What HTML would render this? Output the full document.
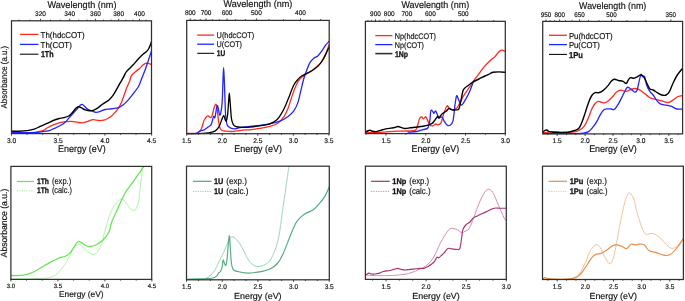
<!DOCTYPE html>
<html><head><meta charset="utf-8"><title>Absorbance spectra</title>
<style>
html,body{margin:0;padding:0;background:#fff;}
body{width:685px;height:301px;overflow:hidden;}
svg{display:block;filter:blur(0.3px);}
text{text-rendering:geometricPrecision;font-family:"Liberation Sans", sans-serif;stroke:#1a1a1a;stroke-width:0.18px;}
</style></head>
<body>
<svg width="685" height="301" viewBox="0 0 685 301" font-family='"Liberation Sans", sans-serif'>
<rect x="0" y="0" width="685" height="301" fill="#fff"/>
<clipPath id="c1"><rect x="11.5" y="20.3" width="140" height="113.8"/></clipPath>
<g clip-path="url(#c1)" fill="none" stroke-linejoin="round" stroke-linecap="round">
<path d="M11.5,133.1C14.13,133.1 23.23,133.23 27.3,133.1C31.37,132.97 33.32,132.7 35.9,132.3C38.48,131.9 41.02,131.38 42.8,130.7C44.58,130.02 44.85,129.17 46.6,128.2C48.35,127.23 51.08,125.83 53.3,124.9C55.52,123.97 57.68,123.15 59.9,122.6C62.12,122.05 64.6,121.82 66.6,121.6C68.6,121.38 70.13,121.2 71.9,121.3C73.67,121.4 75.43,121.93 77.2,122.2C78.97,122.47 80.73,123.05 82.5,122.9C84.27,122.75 86.02,121.85 87.8,121.3C89.58,120.75 91.42,119.73 93.2,119.6C94.98,119.47 96.73,120.4 98.5,120.5C100.27,120.6 102.27,120.53 103.8,120.2C105.33,119.87 106.4,119.22 107.7,118.5C109,117.78 110.28,117 111.6,115.9C112.92,114.8 114.37,113.35 115.6,111.9C116.83,110.45 118,108.87 119,107.2C120,105.53 120.72,104 121.6,101.9C122.48,99.8 123.42,97.03 124.3,94.6C125.18,92.17 126.02,89.52 126.9,87.3C127.78,85.08 128.87,83.2 129.6,81.3C130.33,79.4 130.32,77.5 131.3,75.9C132.28,74.3 134.12,72.95 135.5,71.7C136.88,70.45 138.35,69.5 139.6,68.4C140.85,67.3 142.03,65.93 143,65.1C143.97,64.27 144.58,63.68 145.4,63.4C146.22,63.12 146.83,63.2 147.9,63.4C148.97,63.6 151.15,64.4 151.8,64.6" stroke="#ff2a1f" stroke-width="1.3"/>
<path d="M11.5,132.2C14.13,132.27 23.23,132.55 27.3,132.6C31.37,132.65 33.03,132.7 35.9,132.5C38.77,132.3 42.15,131.77 44.5,131.4C46.85,131.03 48.53,130.72 50,130.3C51.47,129.88 51.65,129.65 53.3,128.9C54.95,128.15 57.92,126.92 59.9,125.8C61.88,124.68 63.65,123.57 65.2,122.2C66.75,120.83 67.87,119.08 69.2,117.6C70.53,116.12 71.98,114.63 73.2,113.3C74.42,111.97 75.38,110.88 76.5,109.6C77.62,108.32 78.93,106.48 79.9,105.6C80.87,104.72 81.53,104.18 82.3,104.3C83.07,104.42 83.58,105.45 84.5,106.3C85.42,107.15 86.58,108.62 87.8,109.4C89.02,110.18 90.47,110.52 91.8,111C93.13,111.48 94.47,112.2 95.8,112.3C97.13,112.4 98.27,112.07 99.8,111.6C101.33,111.13 103.25,109.93 105,109.5C106.75,109.07 108.53,109.22 110.3,109C112.07,108.78 114.05,108.5 115.6,108.2C117.15,107.9 118.27,107.8 119.6,107.2C120.93,106.6 122.27,105.7 123.6,104.6C124.93,103.5 126.27,102.05 127.6,100.6C128.93,99.15 130.37,97.45 131.6,95.9C132.83,94.35 133.8,92.95 135,91.3C136.2,89.65 137.62,88.3 138.8,86C139.98,83.7 141,80.3 142.1,77.5C143.2,74.7 144.43,71.83 145.4,69.2C146.37,66.57 147.07,64.18 147.9,61.7C148.73,59.22 149.68,56.5 150.4,54.3C151.12,52.1 151.9,49.47 152.2,48.5" stroke="#2424ff" stroke-width="1.3"/>
<path d="M11.5,131.2C12.68,131.2 15.97,131.3 18.6,131.2C21.23,131.1 24.7,130.93 27.3,130.6C29.9,130.27 32.05,129.9 34.2,129.2C36.35,128.5 38.13,127.33 40.2,126.4C42.27,125.47 44.42,124.58 46.6,123.6C48.78,122.62 51.3,121.32 53.3,120.5C55.3,119.68 56.83,119.18 58.6,118.7C60.37,118.22 62.23,118.05 63.9,117.6C65.57,117.15 67.15,116.88 68.6,116C70.05,115.12 71.38,113.58 72.6,112.3C73.82,111.02 74.92,109.23 75.9,108.3C76.88,107.37 77.62,106.82 78.5,106.7C79.38,106.58 80.08,107.07 81.2,107.6C82.32,108.13 83.87,109.38 85.2,109.9C86.53,110.42 87.87,110.63 89.2,110.7C90.53,110.77 91.88,110.7 93.2,110.3C94.52,109.9 95.55,109.3 97.1,108.3C98.65,107.3 101.18,105.25 102.5,104.3C103.82,103.35 103.92,103.33 105,102.6C106.08,101.87 107.67,101.12 109,99.9C110.33,98.68 111.67,97.18 113,95.3C114.33,93.42 115.78,90.7 117,88.6C118.22,86.5 119.22,84.6 120.3,82.7C121.38,80.8 122.58,78.9 123.5,77.2C124.42,75.5 125.05,73.7 125.8,72.5C126.55,71.3 126.8,71.23 128,70C129.2,68.77 131.33,66.88 133,65.1C134.67,63.32 136.33,61.1 138,59.3C139.67,57.5 141.62,55.55 143,54.3C144.38,53.05 145.33,52.77 146.3,51.8C147.27,50.83 148.03,49.88 148.8,48.5C149.57,47.12 150.33,45.08 150.9,43.5C151.47,41.92 151.98,39.75 152.2,39" stroke="#000000" stroke-width="1.4"/>
</g>
<rect x="11.5" y="20.8" width="140" height="112.8" fill="none" stroke="#303030" stroke-width="1.25"/>
<path d="M11.5,133.6v2M27.07,133.6v1.2M42.63,133.6v1.2M58.2,133.6v2M73.77,133.6v1.2M89.33,133.6v1.2M104.9,133.6v2M120.47,133.6v1.2M136.03,133.6v1.2M151.6,133.6v2M18.98,20.8v-1.2M29.97,20.8v-1.2M40.5,20.8v-2M50.6,20.8v-1.2M60.3,20.8v-1.2M69.62,20.8v-2M78.58,20.8v-1.2M87.2,20.8v-1.2M95.5,20.8v-2M103.5,20.8v-1.2M111.21,20.8v-1.2M118.66,20.8v-2M125.84,20.8v-1.2M132.79,20.8v-1.2M139.5,20.8v-2M145.99,20.8v-1.2" stroke="#303030" stroke-width="0.9" fill="none"/>
<text x="11.5" y="142.9" font-size="6.9" text-anchor="middle" textLength="9.2" lengthAdjust="spacingAndGlyphs" fill="#111">3.0</text>
<text x="58.2" y="142.9" font-size="6.9" text-anchor="middle" textLength="9.2" lengthAdjust="spacingAndGlyphs" fill="#111">3.5</text>
<text x="104.9" y="142.9" font-size="6.9" text-anchor="middle" textLength="9.2" lengthAdjust="spacingAndGlyphs" fill="#111">4.0</text>
<text x="151.6" y="142.9" font-size="6.9" text-anchor="middle" textLength="9.2" lengthAdjust="spacingAndGlyphs" fill="#111">4.5</text>
<text x="40.5" y="15.8" font-size="6.7" text-anchor="middle" textLength="10.9" lengthAdjust="spacingAndGlyphs" fill="#111">320</text>
<text x="69.62" y="15.8" font-size="6.7" text-anchor="middle" textLength="10.9" lengthAdjust="spacingAndGlyphs" fill="#111">340</text>
<text x="95.5" y="15.8" font-size="6.7" text-anchor="middle" textLength="10.9" lengthAdjust="spacingAndGlyphs" fill="#111">360</text>
<text x="118.66" y="15.8" font-size="6.7" text-anchor="middle" textLength="10.9" lengthAdjust="spacingAndGlyphs" fill="#111">380</text>
<text x="139.5" y="15.8" font-size="6.7" text-anchor="middle" textLength="10.9" lengthAdjust="spacingAndGlyphs" fill="#111">400</text>
<text x="81.9" y="151.9" font-size="9.7" text-anchor="middle" textLength="47.7" lengthAdjust="spacingAndGlyphs" fill="#111">Energy (eV)</text>
<text x="82" y="7.6" font-size="9.7" text-anchor="middle" textLength="69" lengthAdjust="spacingAndGlyphs" fill="#111">Wavelength (nm)</text>
<path d="M19.9,34.4H38.4" stroke="#ff2a1f" stroke-width="1.3" fill="none"/>
<text x="40.6" y="37.5" font-size="8.6" text-anchor="start" textLength="44" lengthAdjust="spacingAndGlyphs" fill="#111">Th(hdcCOT)</text>
<path d="M19.9,44.4H38.4" stroke="#2424ff" stroke-width="1.3" fill="none"/>
<text x="40.6" y="47.5" font-size="8.6" text-anchor="start" textLength="31.2" lengthAdjust="spacingAndGlyphs" fill="#111">Th(COT)</text>
<path d="M19.9,54.2H38.4" stroke="#000000" stroke-width="1.05" fill="none"/>
<text x="40.9" y="57.3" font-size="8.6" text-anchor="start" font-weight="bold" style="stroke-width:0.32px" textLength="12.6" lengthAdjust="spacingAndGlyphs" fill="#111">1Th</text>
<clipPath id="c2"><rect x="186.7" y="19.9" width="142.5" height="114.3"/></clipPath>
<g clip-path="url(#c2)" fill="none" stroke-linejoin="round" stroke-linecap="round">
<path d="M186.7,133.5C188.08,133.48 192.95,133.62 195,133.4C197.05,133.18 197.9,133.07 199,132.2C200.1,131.33 200.83,129.97 201.6,128.2C202.37,126.43 203.03,123.15 203.6,121.6C204.17,120.05 204.43,119.78 205,118.9C205.57,118.02 206.45,116.78 207,116.3C207.55,115.82 207.87,115.9 208.3,116C208.73,116.1 209.15,116.63 209.6,116.9C210.05,117.17 210.55,117.93 211,117.6C211.45,117.27 211.87,116.23 212.3,114.9C212.73,113.57 213.17,111.15 213.6,109.6C214.03,108.05 214.5,106.48 214.9,105.6C215.3,104.72 215.67,104.07 216,104.3C216.33,104.53 216.52,104.57 216.9,107C217.28,109.43 217.85,115.58 218.3,118.9C218.75,122.22 219.05,125.02 219.6,126.9C220.15,128.78 220.6,129.5 221.6,130.2C222.6,130.9 223.83,130.88 225.6,131.1C227.37,131.32 229.98,131.58 232.2,131.5C234.42,131.42 236.77,130.88 238.9,130.6C241.03,130.32 243.15,129.93 245,129.8C246.85,129.67 247.52,130.03 250,129.8C252.48,129.57 256.58,128.97 259.9,128.4C263.22,127.83 266.92,127.27 269.9,126.4C272.88,125.53 275.48,124.8 277.8,123.2C280.12,121.6 282.13,119.18 283.8,116.8C285.47,114.42 286.47,112.22 287.8,108.9C289.13,105.58 290.47,100.72 291.8,96.9C293.13,93.08 294.47,88.95 295.8,86C297.13,83.05 298.12,81.17 299.8,79.2C301.48,77.23 303.9,75.6 305.9,74.2C307.9,72.8 309.65,72.37 311.8,70.8C313.95,69.23 316.8,66.8 318.8,64.8C320.8,62.8 322.02,62.28 323.8,58.8C325.58,55.32 328.55,46.38 329.5,43.9" stroke="#ff2a1f" stroke-width="1.3"/>
<path d="M186.7,133.8C188.08,133.8 192.73,134.28 195,133.8C197.27,133.32 198.75,131.57 200.3,130.9C201.85,130.23 202.97,130.47 204.3,129.8C205.63,129.13 207.18,127.72 208.3,126.9C209.42,126.08 210.33,125.9 211,124.9C211.67,123.9 211.87,122.33 212.3,120.9C212.73,119.47 213.17,116.85 213.6,116.3C214.03,115.75 214.45,118.72 214.9,117.6C215.35,116.48 215.9,111.6 216.3,109.6C216.7,107.6 216.97,105.82 217.3,105.6C217.63,105.38 217.92,106.75 218.3,108.3C218.68,109.85 219.17,114.23 219.6,114.9C220.03,115.57 220.47,114.52 220.9,112.3C221.33,110.08 221.85,106.98 222.2,101.6C222.55,96.22 222.77,85.65 223,80C223.23,74.35 223.38,67.7 223.6,67.7C223.82,67.7 224.07,74.62 224.3,80C224.53,85.38 224.78,94.18 225,100C225.22,105.82 225.28,110.87 225.6,114.9C225.92,118.93 226.47,122.32 226.9,124.2C227.33,126.08 227.53,125.53 228.2,126.2C228.87,126.87 229.78,127.75 230.9,128.2C232.02,128.65 233.35,129 234.9,128.9C236.45,128.8 237.68,128.02 240.2,127.6C242.72,127.18 246.72,126.77 250,126.4C253.28,126.03 256.58,125.83 259.9,125.4C263.22,124.97 266.58,124.5 269.9,123.8C273.22,123.1 276.82,122.37 279.8,121.2C282.78,120.03 285.47,118.52 287.8,116.8C290.13,115.08 292.13,113.22 293.8,110.9C295.47,108.58 296.63,106.23 297.8,102.9C298.97,99.57 299.82,94.88 300.8,90.9C301.78,86.92 302.68,82.52 303.7,79C304.72,75.48 305.88,72.5 306.9,69.8C307.92,67.1 308.65,64.73 309.8,62.8C310.95,60.87 312.47,59.35 313.8,58.2C315.13,57.05 316.47,57.12 317.8,55.9C319.13,54.68 320.47,52.73 321.8,50.9C323.13,49.07 324.52,46.57 325.8,44.9C327.08,43.23 328.88,41.57 329.5,40.9" stroke="#2424ff" stroke-width="1.3"/>
<path d="M186.7,134C188.08,134 191.4,134.18 195,134C198.6,133.82 204.98,133.38 208.3,132.9C211.62,132.42 213.13,132.1 214.9,131.1C216.67,130.1 217.78,128.72 218.9,126.9C220.02,125.08 220.82,122.08 221.6,120.2C222.38,118.32 223.05,115.82 223.6,115.6C224.15,115.38 224.47,118.02 224.9,118.9C225.33,119.78 225.75,121.57 226.2,120.9C226.65,120.23 227.22,117.88 227.6,114.9C227.98,111.92 228.22,106.62 228.5,103C228.78,99.38 229.02,93.2 229.3,93.2C229.58,93.2 229.83,98.72 230.2,103C230.57,107.28 230.95,115.25 231.5,118.9C232.05,122.55 232.72,123.62 233.5,124.9C234.28,126.18 235.08,126.22 236.2,126.6C237.32,126.98 237.9,127.1 240.2,127.2C242.5,127.3 246.72,127.43 250,127.2C253.28,126.97 256.58,126.37 259.9,125.8C263.22,125.23 267.07,124.8 269.9,123.8C272.73,122.8 274.92,121.63 276.9,119.8C278.88,117.97 280.32,115.28 281.8,112.8C283.28,110.32 284.47,107.88 285.8,104.9C287.13,101.92 288.47,98.22 289.8,94.9C291.13,91.58 292.45,87.58 293.8,85C295.15,82.42 296.55,80.93 297.9,79.4C299.25,77.87 300.57,76.73 301.9,75.8C303.23,74.87 304.25,74.63 305.9,73.8C307.55,72.97 309.65,72.2 311.8,70.8C313.95,69.4 316.8,67.57 318.8,65.4C320.8,63.23 322.3,60.38 323.8,57.8C325.3,55.22 326.85,51.78 327.8,49.9C328.75,48.02 329.22,47.07 329.5,46.5" stroke="#000000" stroke-width="1.3"/>
</g>
<rect x="186.7" y="20.4" width="142.5" height="113.3" fill="none" stroke="#303030" stroke-width="1.25"/>
<path d="M186.7,133.7v2M198.55,133.7v1.2M210.4,133.7v1.2M222.25,133.7v2M234.1,133.7v1.2M245.95,133.7v1.2M257.8,133.7v2M269.65,133.7v1.2M281.5,133.7v1.2M293.35,133.7v2M305.2,133.7v1.2M317.05,133.7v1.2M328.9,133.7v2M320.54,20.4v-1.2M300.5,20.4v-2M283.55,20.4v-1.2M269.01,20.4v-1.2M256.42,20.4v-2M245.4,20.4v-1.2M235.68,20.4v-1.2M227.03,20.4v-2M219.3,20.4v-1.2M212.34,20.4v-1.2M206.04,20.4v-2M200.32,20.4v-1.2M195.09,20.4v-1.2M190.3,20.4v-2" stroke="#303030" stroke-width="0.9" fill="none"/>
<text x="186.7" y="142.9" font-size="6.9" text-anchor="middle" textLength="9.2" lengthAdjust="spacingAndGlyphs" fill="#111">1.5</text>
<text x="222.25" y="142.9" font-size="6.9" text-anchor="middle" textLength="9.2" lengthAdjust="spacingAndGlyphs" fill="#111">2.0</text>
<text x="257.8" y="142.9" font-size="6.9" text-anchor="middle" textLength="9.2" lengthAdjust="spacingAndGlyphs" fill="#111">2.5</text>
<text x="293.35" y="142.9" font-size="6.9" text-anchor="middle" textLength="9.2" lengthAdjust="spacingAndGlyphs" fill="#111">3.0</text>
<text x="328.9" y="142.9" font-size="6.9" text-anchor="middle" textLength="9.2" lengthAdjust="spacingAndGlyphs" fill="#111">3.5</text>
<text x="190.3" y="15.1" font-size="6.7" text-anchor="middle" textLength="10.8" lengthAdjust="spacingAndGlyphs" fill="#111">800</text>
<text x="206.04" y="15.1" font-size="6.7" text-anchor="middle" textLength="10.8" lengthAdjust="spacingAndGlyphs" fill="#111">700</text>
<text x="227.03" y="15.1" font-size="6.7" text-anchor="middle" textLength="10.8" lengthAdjust="spacingAndGlyphs" fill="#111">600</text>
<text x="256.42" y="15.1" font-size="6.7" text-anchor="middle" textLength="10.8" lengthAdjust="spacingAndGlyphs" fill="#111">500</text>
<text x="300.5" y="15.1" font-size="6.7" text-anchor="middle" textLength="10.8" lengthAdjust="spacingAndGlyphs" fill="#111">400</text>
<text x="258.1" y="151.9" font-size="9.7" text-anchor="middle" textLength="47.7" lengthAdjust="spacingAndGlyphs" fill="#111">Energy (eV)</text>
<text x="257.9" y="6.9" font-size="9.7" text-anchor="middle" textLength="68.9" lengthAdjust="spacingAndGlyphs" fill="#111">Wavelength (nm)</text>
<path d="M197.2,35.1H214.1" stroke="#ff2a1f" stroke-width="1.3" fill="none"/>
<text x="216.6" y="38.2" font-size="8.2" text-anchor="start" textLength="37.6" lengthAdjust="spacingAndGlyphs" fill="#111">U(hdcCOT)</text>
<path d="M197.2,44.2H214.1" stroke="#2424ff" stroke-width="1.3" fill="none"/>
<text x="216.6" y="47.3" font-size="8.2" text-anchor="start" textLength="25.4" lengthAdjust="spacingAndGlyphs" fill="#111">U(COT)</text>
<path d="M197.2,53.3H214.1" stroke="#000000" stroke-width="1.05" fill="none"/>
<text x="216.8" y="56.4" font-size="8.2" text-anchor="start" font-weight="bold" style="stroke-width:0.32px" textLength="8.4" lengthAdjust="spacingAndGlyphs" fill="#111">1U</text>
<clipPath id="c3"><rect x="365.4" y="20.8" width="139.9" height="113.3"/></clipPath>
<g clip-path="url(#c3)" fill="none" stroke-linejoin="round" stroke-linecap="round">
<path d="M365.4,132.7C367.18,132.7 372.12,132.88 376.1,132.7C380.08,132.52 384.92,131.87 389.3,131.6C393.68,131.33 398.32,131.25 402.4,131.1C406.48,130.95 411.47,131.07 413.8,130.7C416.13,130.33 415.67,130.13 416.4,128.9C417.13,127.67 417.62,125.12 418.2,123.3C418.78,121.48 419.28,119.07 419.9,118C420.52,116.93 421.35,116.75 421.9,116.9C422.45,117.05 422.55,118.9 423.2,118.9C423.85,118.9 425.03,116.57 425.8,116.9C426.57,117.23 427.13,119.57 427.8,120.9C428.47,122.23 428.97,124.07 429.8,124.9C430.63,125.73 431.8,126.07 432.8,125.9C433.8,125.73 434.93,124.07 435.8,123.9C436.67,123.73 437.13,125.07 438,124.9C438.87,124.73 440,124.9 441,122.9C442,120.9 443,115.73 444,112.9C445,110.07 446.17,106.73 447,105.9C447.83,105.07 448,107.23 449,107.9C450,108.57 451.68,109.9 453,109.9C454.32,109.9 455.75,109.07 456.9,107.9C458.05,106.73 458.9,104.73 459.9,102.9C460.9,101.07 461.73,98.88 462.9,96.9C464.07,94.92 465.57,92.98 466.9,91C468.23,89.02 469.57,86.97 470.9,85C472.23,83.03 473.57,81.05 474.9,79.2C476.23,77.35 477.23,76.12 478.9,73.9C480.57,71.68 482.9,68.23 484.9,65.9C486.9,63.57 489.25,61.4 490.9,59.9C492.55,58.4 493.65,58.07 494.8,56.9C495.95,55.73 496.8,54 497.8,52.9C498.8,51.8 499.97,50.73 500.8,50.3C501.63,49.87 502,50.1 502.8,50.3C503.6,50.5 505.13,51.3 505.6,51.5" stroke="#ff2a1f" stroke-width="1.3"/>
<path d="M408.1,132.2C409.57,132.08 414.42,131.93 416.9,131.5C419.38,131.07 421.18,130.18 423,129.6C424.82,129.02 426.67,129.45 427.8,128C428.93,126.55 429.3,123.75 429.8,120.9C430.3,118.05 430.37,112.57 430.8,110.9C431.23,109.23 431.9,110.5 432.4,110.9C432.9,111.3 433.28,113.3 433.8,113.3C434.32,113.3 434.97,110.8 435.5,110.9C436.03,111 436.42,112.73 437,113.9C437.58,115.07 438.17,117.4 439,117.9C439.83,118.4 441.17,116.4 442,116.9C442.83,117.4 443.17,119.57 444,120.9C444.83,122.23 446,124.17 447,124.9C448,125.63 449,125.97 450,125.3C451,124.63 452.17,124.3 453,120.9C453.83,117.5 454.42,109.07 455,104.9C455.58,100.73 456.02,97.07 456.5,95.9C456.98,94.73 457.33,96.73 457.9,97.9C458.47,99.07 459.23,101.73 459.9,102.9C460.57,104.07 460.9,105.57 461.9,104.9C462.9,104.23 464.57,101.22 465.9,98.9C467.23,96.58 468.73,93.65 469.9,91C471.07,88.35 472.23,84.67 472.9,83C473.57,81.33 473.73,81.33 473.9,81" stroke="#2424ff" stroke-width="1.3"/>
<path d="M365.4,131.8C365.52,131.77 365.33,131.85 366.1,131.6C366.87,131.35 368.92,130.35 370,130.3C371.08,130.25 371.58,131.08 372.6,131.3C373.62,131.52 374.78,131.77 376.1,131.6C377.42,131.43 378.88,130.75 380.5,130.3C382.12,129.85 384.05,129.27 385.8,128.9C387.55,128.53 389.55,128.33 391,128.1C392.45,127.87 393.33,127.77 394.5,127.5C395.67,127.23 396.83,126.48 398,126.5C399.17,126.52 400.33,127.27 401.5,127.6C402.67,127.93 403.53,128.47 405,128.5C406.47,128.53 408.55,128.02 410.3,127.8C412.05,127.58 413.38,127.45 415.5,127.2C417.62,126.95 420.78,126.68 423,126.3C425.22,125.92 427.17,125.47 428.8,124.9C430.43,124.33 431.63,123.9 432.8,122.9C433.97,121.9 434.97,119.97 435.8,118.9C436.63,117.83 437.27,116.67 437.8,116.5C438.33,116.33 438.3,118.33 439,117.9C439.7,117.47 440.83,115 442,113.9C443.17,112.8 444.83,112.2 446,111.3C447.17,110.4 448,108.73 449,108.5C450,108.27 450.85,109.67 452,109.9C453.15,110.13 454.75,110.07 455.9,109.9C457.05,109.73 458.07,110.4 458.9,108.9C459.73,107.4 460.23,103.88 460.9,100.9C461.57,97.92 462.23,93.15 462.9,91C463.57,88.85 463.9,89 464.9,88C465.9,87 467.57,86 468.9,85C470.23,84 471.23,83 472.9,82C474.57,81 476.9,80 478.9,79C480.9,78 483.23,76.78 484.9,76C486.57,75.22 487.58,74.92 488.9,74.3C490.22,73.68 491.15,72.7 492.8,72.3C494.45,71.9 496.67,71.9 498.8,71.9C500.93,71.9 504.47,72.23 505.6,72.3" stroke="#000000" stroke-width="1.4"/>
</g>
<rect x="365.4" y="21.3" width="139.9" height="112.3" fill="none" stroke="#303030" stroke-width="1.25"/>
<path d="M366.12,133.6v1.2M386,133.6v2M405.88,133.6v1.2M425.75,133.6v2M445.62,133.6v1.2M465.5,133.6v2M485.38,133.6v1.2M505.25,133.6v2M493.69,21.3v-1.2M477.41,21.3v-1.2M463.3,21.3v-2M450.95,21.3v-1.2M440.06,21.3v-1.2M430.38,21.3v-2M421.71,21.3v-1.2M413.91,21.3v-1.2M406.86,21.3v-2M400.44,21.3v-1.2M394.59,21.3v-1.2M389.22,21.3v-2M384.28,21.3v-1.2M379.72,21.3v-1.2M375.5,21.3v-2M371.58,21.3v-1.2M367.93,21.3v-1.2" stroke="#303030" stroke-width="0.9" fill="none"/>
<text x="386" y="142.9" font-size="6.9" text-anchor="middle" textLength="9.2" lengthAdjust="spacingAndGlyphs" fill="#111">1.5</text>
<text x="425.75" y="142.9" font-size="6.9" text-anchor="middle" textLength="9.2" lengthAdjust="spacingAndGlyphs" fill="#111">2.0</text>
<text x="465.5" y="142.9" font-size="6.9" text-anchor="middle" textLength="9.2" lengthAdjust="spacingAndGlyphs" fill="#111">2.5</text>
<text x="505.25" y="142.9" font-size="6.9" text-anchor="middle" textLength="9.2" lengthAdjust="spacingAndGlyphs" fill="#111">3.0</text>
<text x="375.5" y="15.9" font-size="6.7" text-anchor="middle" textLength="10.8" lengthAdjust="spacingAndGlyphs" fill="#111">900</text>
<text x="389.22" y="15.9" font-size="6.7" text-anchor="middle" textLength="10.8" lengthAdjust="spacingAndGlyphs" fill="#111">800</text>
<text x="406.86" y="15.9" font-size="6.7" text-anchor="middle" textLength="10.8" lengthAdjust="spacingAndGlyphs" fill="#111">700</text>
<text x="430.38" y="15.9" font-size="6.7" text-anchor="middle" textLength="10.8" lengthAdjust="spacingAndGlyphs" fill="#111">600</text>
<text x="463.3" y="15.9" font-size="6.7" text-anchor="middle" textLength="10.8" lengthAdjust="spacingAndGlyphs" fill="#111">500</text>
<text x="435.3" y="151.9" font-size="9.7" text-anchor="middle" textLength="47.7" lengthAdjust="spacingAndGlyphs" fill="#111">Energy (eV)</text>
<text x="435.3" y="8.4" font-size="9.7" text-anchor="middle" textLength="67.8" lengthAdjust="spacingAndGlyphs" fill="#111">Wavelength (nm)</text>
<path d="M375.3,35.6H392.4" stroke="#ff2a1f" stroke-width="1.3" fill="none"/>
<text x="394.8" y="38.7" font-size="8.2" text-anchor="start" textLength="41.2" lengthAdjust="spacingAndGlyphs" fill="#111">Np(hdcCOT)</text>
<path d="M375.3,44.6H392.4" stroke="#2424ff" stroke-width="1.3" fill="none"/>
<text x="394.8" y="47.7" font-size="8.2" text-anchor="start" textLength="29.2" lengthAdjust="spacingAndGlyphs" fill="#111">Np(COT)</text>
<path d="M375.3,53.6H392.4" stroke="#333" stroke-width="1.6" fill="none"/>
<text x="394.9" y="56.7" font-size="8.2" text-anchor="start" font-weight="bold" style="stroke-width:0.32px" textLength="13.1" lengthAdjust="spacingAndGlyphs" fill="#111">1Np</text>
<clipPath id="c4"><rect x="542.7" y="20.9" width="139.9" height="113.5"/></clipPath>
<g clip-path="url(#c4)" fill="none" stroke-linejoin="round" stroke-linecap="round">
<path d="M542.6,133.1C544.33,132.85 549.83,131.75 553,131.6C556.17,131.45 558.37,132.1 561.6,132.2C564.83,132.3 569.52,132.48 572.4,132.2C575.28,131.92 576.92,131.5 578.9,130.5C580.88,129.5 582.68,128.37 584.3,126.2C585.92,124.03 587.35,120.38 588.6,117.5C589.85,114.62 590.72,111.23 591.8,108.9C592.88,106.57 594.02,104.77 595.1,103.5C596.18,102.23 597.22,101.48 598.3,101.3C599.38,101.12 600.52,102.15 601.6,102.4C602.68,102.65 603.55,103.17 604.8,102.8C606.05,102.43 607.7,101.33 609.1,100.2C610.5,99.07 611.97,97.35 613.2,96C614.43,94.65 615.23,93.07 616.5,92.1C617.77,91.13 619.18,90.33 620.8,90.2C622.42,90.07 624.58,91.4 626.2,91.3C627.82,91.2 629.07,90.07 630.5,89.6C631.93,89.13 633.35,88.5 634.8,88.5C636.25,88.5 637.57,88.78 639.2,89.6C640.83,90.42 642.8,92.03 644.6,93.4C646.4,94.77 648.2,96.82 650,97.8C651.8,98.78 653.43,98.8 655.4,99.3C657.37,99.8 659.65,100.27 661.8,100.8C663.95,101.33 666.5,102.57 668.3,102.5C670.1,102.43 670.98,101.4 672.6,100.4C674.22,99.4 676.23,97.33 678,96.5C679.77,95.67 682.33,95.58 683.2,95.4" stroke="#ff2a1f" stroke-width="1.3"/>
<path d="M542.6,133.7C547.57,133.7 565.63,133.8 572.4,133.7C579.17,133.6 580.5,133.45 583.2,133.1C585.9,132.75 586.98,132.58 588.6,131.6C590.22,130.62 591.47,129 592.9,127.2C594.33,125.4 595.93,122.95 597.2,120.8C598.47,118.65 599.42,116.1 600.5,114.3C601.58,112.5 602.62,110.9 603.7,110C604.78,109.1 605.73,109.07 607,108.9C608.27,108.73 610.08,108.92 611.3,109C612.52,109.08 613.08,110.3 614.3,109.4C615.52,108.5 617.15,106 618.6,103.6C620.05,101.2 621.55,97.7 623,95C624.45,92.3 625.87,88.3 627.3,87.4C628.73,86.5 630.35,88.82 631.6,89.6C632.85,90.38 633.9,91.93 634.8,92.1C635.7,92.27 636.27,92.47 637,90.6C637.73,88.73 638.55,83.6 639.2,80.9C639.85,78.2 640.37,75.12 640.9,74.4C641.43,73.68 641.78,76.23 642.4,76.6C643.02,76.97 643.88,75.17 644.6,76.6C645.32,78.03 645.8,82.68 646.7,85.2C647.6,87.72 648.92,90.07 650,91.7C651.08,93.33 651.95,93.38 653.2,95C654.45,96.62 656.23,99.87 657.5,101.4C658.77,102.93 659.35,103.58 660.8,104.2C662.25,104.82 664.4,104.73 666.2,105.1C668,105.47 669.8,105.75 671.6,106.4C673.4,107.05 675.07,108.57 677,109C678.93,109.43 682.17,109 683.2,109" stroke="#2424ff" stroke-width="1.3"/>
<path d="M542.6,132.6C542.97,132.25 544.08,130.93 544.8,130.5C545.52,130.07 546.18,129.82 546.9,130C547.62,130.18 548.08,131.23 549.1,131.6C550.12,131.97 550.92,132.03 553,132.2C555.08,132.37 559.08,132.6 561.6,132.6C564.12,132.6 565.93,132.55 568.1,132.2C570.27,131.85 572.8,131.15 574.6,130.5C576.4,129.85 577.65,129.75 578.9,128.3C580.15,126.85 581.02,124.5 582.1,121.8C583.18,119.1 584.32,115.33 585.4,112.1C586.48,108.87 587.53,105.17 588.6,102.4C589.67,99.63 590.72,97.12 591.8,95.5C592.88,93.88 594.02,93.17 595.1,92.7C596.18,92.23 597.22,92.88 598.3,92.7C599.38,92.52 600.52,92.22 601.6,91.6C602.68,90.98 603.73,90 604.8,89C605.87,88 606.92,86.9 608,85.6C609.08,84.3 610.25,82.27 611.3,81.2C612.35,80.13 613.08,79.32 614.3,79.2C615.52,79.08 617.15,80.15 618.6,80.5C620.05,80.85 621.73,80.8 623,81.3C624.27,81.8 625.3,83.75 626.2,83.5C627.1,83.25 627.68,80.77 628.4,79.8C629.12,78.83 629.6,77.95 630.5,77.7C631.4,77.45 632.72,78.42 633.8,78.3C634.88,78.18 635.93,77.57 637,77C638.07,76.43 639.3,75.15 640.2,74.9C641.1,74.65 641.67,74.93 642.4,75.5C643.13,76.07 643.7,76.68 644.6,78.3C645.5,79.92 646.9,83.4 647.8,85.2C648.7,87 649.1,88.3 650,89.1C650.9,89.9 651.95,89.38 653.2,90C654.45,90.62 656.07,91.97 657.5,92.8C658.93,93.63 660.35,94.63 661.8,95C663.25,95.37 664.93,95.55 666.2,95C667.47,94.45 668.33,93.5 669.4,91.7C670.47,89.9 671.33,86.9 672.6,84.2C673.87,81.5 675.23,78.28 677,75.5C678.77,72.72 682.17,68.83 683.2,67.5" stroke="#000000" stroke-width="1.4"/>
</g>
<rect x="542.7" y="21.4" width="139.9" height="112.5" fill="none" stroke="#303030" stroke-width="1.25"/>
<path d="M547.9,133.9v1.2M557.2,133.9v2M566.5,133.9v1.2M575.8,133.9v1.2M585.1,133.9v2M594.4,133.9v1.2M603.7,133.9v1.2M613,133.9v2M622.3,133.9v1.2M631.6,133.9v1.2M640.9,133.9v2M650.2,133.9v1.2M659.5,133.9v1.2M668.8,133.9v2M678.1,133.9v1.2M670.8,21.4v-2M646.1,21.4v-1.2M626.89,21.4v-1.2M611.52,21.4v-2M598.95,21.4v-1.2M588.47,21.4v-1.2M579.6,21.4v-2M572,21.4v-1.2M565.41,21.4v-1.2M559.65,21.4v-2M554.56,21.4v-1.2M550.04,21.4v-1.2M546,21.4v-2" stroke="#303030" stroke-width="0.9" fill="none"/>
<text x="557.2" y="142.9" font-size="6.9" text-anchor="middle" textLength="9.2" lengthAdjust="spacingAndGlyphs" fill="#111">1.5</text>
<text x="585.1" y="142.9" font-size="6.9" text-anchor="middle" textLength="9.2" lengthAdjust="spacingAndGlyphs" fill="#111">2.0</text>
<text x="613" y="142.9" font-size="6.9" text-anchor="middle" textLength="9.2" lengthAdjust="spacingAndGlyphs" fill="#111">2.5</text>
<text x="640.9" y="142.9" font-size="6.9" text-anchor="middle" textLength="9.2" lengthAdjust="spacingAndGlyphs" fill="#111">3.0</text>
<text x="668.8" y="142.9" font-size="6.9" text-anchor="middle" textLength="9.2" lengthAdjust="spacingAndGlyphs" fill="#111">3.5</text>
<text x="546" y="16.6" font-size="6.7" text-anchor="middle" textLength="10.5" lengthAdjust="spacingAndGlyphs" fill="#111">950</text>
<text x="559.65" y="16.6" font-size="6.7" text-anchor="middle" textLength="10.5" lengthAdjust="spacingAndGlyphs" fill="#111">800</text>
<text x="579.6" y="16.6" font-size="6.7" text-anchor="middle" textLength="10.5" lengthAdjust="spacingAndGlyphs" fill="#111">650</text>
<text x="611.52" y="16.6" font-size="6.7" text-anchor="middle" textLength="10.5" lengthAdjust="spacingAndGlyphs" fill="#111">500</text>
<text x="670.8" y="16.6" font-size="6.7" text-anchor="middle" textLength="10.5" lengthAdjust="spacingAndGlyphs" fill="#111">350</text>
<text x="613" y="151.9" font-size="9.7" text-anchor="middle" textLength="47.7" lengthAdjust="spacingAndGlyphs" fill="#111">Energy (eV)</text>
<text x="612.7" y="8.8" font-size="9.7" text-anchor="middle" textLength="67.2" lengthAdjust="spacingAndGlyphs" fill="#111">Wavelength (nm)</text>
<path d="M549,35.3H566.9" stroke="#ff2a1f" stroke-width="1.3" fill="none"/>
<text x="568.9" y="38.5" font-size="8.6" text-anchor="start" textLength="43.8" lengthAdjust="spacingAndGlyphs" fill="#111">Pu(hdcCOT)</text>
<path d="M549,44.6H566.9" stroke="#2424ff" stroke-width="1.3" fill="none"/>
<text x="568.9" y="47.8" font-size="8.6" text-anchor="start" textLength="30.9" lengthAdjust="spacingAndGlyphs" fill="#111">Pu(COT)</text>
<path d="M549,54.4H566.9" stroke="#000000" stroke-width="1.05" fill="none"/>
<text x="569" y="57.6" font-size="8.6" text-anchor="start" font-weight="bold" style="stroke-width:0.32px" textLength="13.9" lengthAdjust="spacingAndGlyphs" fill="#111">1Pu</text>
<clipPath id="c5"><rect x="10.9" y="165.9" width="140.8" height="114"/></clipPath>
<g clip-path="url(#c5)" fill="none" stroke-linejoin="round" stroke-linecap="round">
<path d="M10.9,279.1C14.47,279.07 26.88,279.03 32.3,278.9C37.72,278.77 40.43,278.55 43.4,278.3C46.37,278.05 48.25,277.85 50.1,277.4C51.95,276.95 53.02,276.53 54.5,275.6C55.98,274.67 57.3,273.58 59,271.8C60.7,270.02 63.2,266.93 64.7,264.9C66.2,262.87 66.78,261.93 68,259.6C69.22,257.27 70.78,253.12 72,250.9C73.22,248.68 74.2,247.4 75.3,246.3C76.4,245.2 77.5,244.3 78.6,244.3C79.7,244.3 80.57,245.2 81.9,246.3C83.23,247.4 85.05,249.62 86.6,250.9C88.15,252.18 89.87,253.45 91.2,254C92.53,254.55 93.6,254.5 94.6,254.2C95.6,253.9 96.32,253.3 97.2,252.2C98.08,251.1 99.02,249.47 99.9,247.6C100.78,245.73 101.7,243.67 102.5,241C103.3,238.33 103.57,235.68 104.7,231.6C105.83,227.52 107.75,220.77 109.3,216.5C110.85,212.23 112.45,208.63 114,206C115.55,203.37 117.25,201.87 118.6,200.7C119.95,199.53 120.93,198.7 122.1,199C123.27,199.3 124.25,200.95 125.6,202.5C126.95,204.05 128.9,206.95 130.2,208.3C131.5,209.65 132.4,210.57 133.4,210.6C134.4,210.63 135.38,209.78 136.2,208.5C137.02,207.22 137.73,205.38 138.3,202.9C138.87,200.42 139.17,196.92 139.6,193.6C140.03,190.28 140.45,186.77 140.9,183C141.35,179.23 141.97,173.78 142.3,171C142.63,168.22 142.8,167.08 142.9,166.3" stroke="#7eea74" stroke-width="0.9" stroke-dasharray="1.3,1.0" stroke-opacity="0.75"/>
<path d="M10.9,275.6C12.98,275.52 20.22,275.47 23.4,275.1C26.58,274.73 27.78,274.22 30,273.4C32.22,272.58 34.47,271.4 36.7,270.2C38.93,269 41.17,267.5 43.4,266.2C45.63,264.9 47.87,263.58 50.1,262.4C52.33,261.22 55.15,259.9 56.8,259.1C58.45,258.3 58.58,258.08 60,257.6C61.42,257.12 63.63,256.98 65.3,256.2C66.97,255.42 68.67,254.22 70,252.9C71.33,251.58 72.2,249.97 73.3,248.3C74.4,246.63 75.6,244.02 76.6,242.9C77.6,241.78 78.42,241.6 79.3,241.6C80.18,241.6 80.92,242.3 81.9,242.9C82.88,243.5 83.98,244.63 85.2,245.2C86.42,245.77 87.87,246.17 89.2,246.3C90.53,246.43 91.87,246.33 93.2,246C94.53,245.67 95.87,245.03 97.2,244.3C98.53,243.57 99.87,242.72 101.2,241.6C102.53,240.48 103.87,239.27 105.2,237.6C106.53,235.93 108.13,234.15 109.2,231.6C110.27,229.05 110.42,225.6 111.6,222.3C112.78,219 114.75,215.28 116.3,211.8C117.85,208.32 119.35,204.67 120.9,201.4C122.45,198.13 123.92,194.98 125.6,192.2C127.28,189.42 129.22,187.18 131,184.7C132.78,182.22 134.75,179.48 136.3,177.3C137.85,175.12 139.08,173.43 140.3,171.6C141.52,169.77 143.05,167.18 143.6,166.3" stroke="#62e84e" stroke-width="1.25"/>
</g>
<rect x="10.9" y="166.4" width="140.8" height="113" fill="none" stroke="#303030" stroke-width="1.25"/>
<path d="M10.9,279.4v2M26.57,279.4v1.2M42.23,279.4v1.2M57.9,279.4v2M73.57,279.4v1.2M89.23,279.4v1.2M104.9,279.4v2M120.57,279.4v1.2M136.23,279.4v1.2M151.9,279.4v2" stroke="#303030" stroke-width="0.9" fill="none"/>
<text x="10.9" y="288" font-size="6.2" text-anchor="middle" textLength="8.4" lengthAdjust="spacingAndGlyphs" fill="#111">3.0</text>
<text x="57.9" y="288" font-size="6.2" text-anchor="middle" textLength="8.4" lengthAdjust="spacingAndGlyphs" fill="#111">3.5</text>
<text x="104.9" y="288" font-size="6.2" text-anchor="middle" textLength="8.4" lengthAdjust="spacingAndGlyphs" fill="#111">4.0</text>
<text x="151.9" y="288" font-size="6.2" text-anchor="middle" textLength="8.4" lengthAdjust="spacingAndGlyphs" fill="#111">4.5</text>
<text x="81.3" y="297" font-size="8.4" text-anchor="middle" textLength="44.6" lengthAdjust="spacingAndGlyphs" fill="#111">Energy (eV)</text>
<path d="M16.9,181.5H34" stroke="#62e84e" stroke-width="1.2" fill="none"/>
<text x="37" y="183.8" font-size="8" text-anchor="start" font-weight="bold" style="stroke-width:0.32px" textLength="12" lengthAdjust="spacingAndGlyphs" fill="#111">1Th</text>
<text x="51.9" y="183.8" font-size="9" text-anchor="start" textLength="19.3" lengthAdjust="spacingAndGlyphs" fill="#111">(exp.)</text>
<path d="M16.9,190.9H34" stroke="#7eea74" stroke-width="1" stroke-dasharray="1.2,1.2" stroke-opacity="0.75" fill="none"/>
<text x="37" y="193.4" font-size="8" text-anchor="start" font-weight="bold" style="stroke-width:0.32px" textLength="12" lengthAdjust="spacingAndGlyphs" fill="#111">1Th</text>
<text x="51.9" y="193.4" font-size="9" text-anchor="start" textLength="20" lengthAdjust="spacingAndGlyphs" fill="#111">(calc.)</text>
<clipPath id="c6"><rect x="186.5" y="165.7" width="142.8" height="114.6"/></clipPath>
<g clip-path="url(#c6)" fill="none" stroke-linejoin="round" stroke-linecap="round">
<path d="M186.6,279.6C189.05,279.42 198.23,278.62 201.3,278.5C204.37,278.38 203.5,279.4 205,278.9C206.5,278.4 208.68,276.93 210.3,275.5C211.92,274.07 213.23,272.63 214.7,270.3C216.17,267.97 217.63,264.45 219.1,261.5C220.57,258.55 222.18,255.4 223.5,252.6C224.82,249.8 225.98,247.03 227,244.7C228.02,242.37 228.72,239.92 229.6,238.6C230.48,237.28 231.27,236.8 232.3,236.8C233.33,236.8 234.63,237.57 235.8,238.6C236.97,239.63 238.12,241.25 239.3,243C240.48,244.75 241.72,246.9 242.9,249.1C244.08,251.3 245.2,254 246.4,256.2C247.6,258.4 248.92,260.83 250.1,262.3C251.28,263.77 252.3,264.28 253.5,265C254.7,265.72 255.75,266.48 257.3,266.6C258.85,266.72 261.27,266.17 262.8,265.7C264.33,265.23 265.3,264.65 266.5,263.8C267.7,262.95 268.5,263.08 270,260.6C271.5,258.12 273.97,253.28 275.5,248.9C277.03,244.52 277.98,240.98 279.2,234.3C280.42,227.62 281.58,217.32 282.8,208.8C284.02,200.28 285.47,190.42 286.5,183.2C287.53,175.98 288.58,168.45 289,165.5" stroke="#4fab7c" stroke-width="0.8" stroke-dasharray="1.3,1.0" stroke-opacity="0.75"/>
<path d="M186.6,279.3C188.6,279.25 195.53,279.1 198.6,279C201.67,278.9 202.77,278.83 205,278.7C207.23,278.57 210.1,278.58 212,278.2C213.9,277.82 215.28,277.28 216.4,276.4C217.52,275.52 217.97,273.78 218.7,272.9C219.43,272.02 220.2,272.27 220.8,271.1C221.4,269.93 221.92,267.75 222.3,265.9C222.68,264.05 222.75,260.45 223.1,260C223.45,259.55 223.95,262.32 224.4,263.2C224.85,264.08 225.37,265.88 225.8,265.3C226.23,264.72 226.6,262.98 227,259.7C227.4,256.42 227.82,249.65 228.2,245.6C228.58,241.55 228.97,235.4 229.3,235.4C229.63,235.4 229.85,240.97 230.2,245.6C230.55,250.23 230.9,259.23 231.4,263.2C231.9,267.17 232.47,268.08 233.2,269.4C233.93,270.72 234.63,270.67 235.8,271.1C236.97,271.53 238.58,271.7 240.2,272C241.82,272.3 243.85,272.73 245.5,272.9C247.15,273.07 247.52,273.22 250.1,273C252.68,272.78 257.68,272.27 261,271.6C264.32,270.93 267.27,270.35 270,269C272.73,267.65 275.27,265.93 277.4,263.5C279.53,261.07 280.68,258.95 282.8,254.4C284.92,249.85 287.97,241.37 290.1,236.2C292.23,231.03 294,226.4 295.6,223.4C297.2,220.4 298.05,219.83 299.7,218.2C301.35,216.57 303.23,215.02 305.5,213.6C307.77,212.18 311.03,211.32 313.3,209.7C315.57,208.08 317.15,206.17 319.1,203.9C321.05,201.63 323.28,199.02 325,196.1C326.72,193.18 328.67,188.02 329.4,186.4" stroke="#4fab7c" stroke-width="1.15"/>
</g>
<rect x="186.5" y="166.2" width="142.8" height="113.6" fill="none" stroke="#303030" stroke-width="1.25"/>
<path d="M186.6,279.8v2M198.48,279.8v1.2M210.37,279.8v1.2M222.25,279.8v2M234.13,279.8v1.2M246.02,279.8v1.2M257.9,279.8v2M269.78,279.8v1.2M281.67,279.8v1.2M293.55,279.8v2M305.43,279.8v1.2M317.32,279.8v1.2M329.2,279.8v2" stroke="#303030" stroke-width="0.9" fill="none"/>
<text x="186.6" y="288.8" font-size="6.8" text-anchor="middle" textLength="9" lengthAdjust="spacingAndGlyphs" fill="#111">1.5</text>
<text x="222.25" y="288.8" font-size="6.8" text-anchor="middle" textLength="9" lengthAdjust="spacingAndGlyphs" fill="#111">2.0</text>
<text x="257.9" y="288.8" font-size="6.8" text-anchor="middle" textLength="9" lengthAdjust="spacingAndGlyphs" fill="#111">2.5</text>
<text x="293.55" y="288.8" font-size="6.8" text-anchor="middle" textLength="9" lengthAdjust="spacingAndGlyphs" fill="#111">3.0</text>
<text x="329.2" y="288.8" font-size="6.8" text-anchor="middle" textLength="9" lengthAdjust="spacingAndGlyphs" fill="#111">3.5</text>
<text x="257.8" y="298.7" font-size="8.8" text-anchor="middle" textLength="47.5" lengthAdjust="spacingAndGlyphs" fill="#111">Energy (eV)</text>
<path d="M192.9,181.3H211.5" stroke="#4fab7c" stroke-width="1.2" fill="none"/>
<text x="214" y="183.8" font-size="8" text-anchor="start" font-weight="bold" style="stroke-width:0.32px" textLength="9.3" lengthAdjust="spacingAndGlyphs" fill="#111">1U</text>
<text x="226.3" y="183.8" font-size="9" text-anchor="start" textLength="20.6" lengthAdjust="spacingAndGlyphs" fill="#111">(exp.)</text>
<path d="M192.9,191.4H211.5" stroke="#4fab7c" stroke-width="0.8" stroke-dasharray="1.2,1.2" stroke-opacity="0.75" fill="none"/>
<text x="214" y="194" font-size="8" text-anchor="start" font-weight="bold" style="stroke-width:0.32px" textLength="9.3" lengthAdjust="spacingAndGlyphs" fill="#111">1U</text>
<text x="226.3" y="194" font-size="9" text-anchor="start" textLength="22.2" lengthAdjust="spacingAndGlyphs" fill="#111">(calc.)</text>
<clipPath id="c7"><rect x="365.4" y="165.7" width="140.9" height="114.2"/></clipPath>
<g clip-path="url(#c7)" fill="none" stroke-linejoin="round" stroke-linecap="round">
<path d="M365.4,275.2C367.05,275.27 371.93,275.53 375.3,275.6C378.67,275.67 382.17,275.67 385.6,275.6C389.03,275.53 392.47,275.47 395.9,275.2C399.33,274.93 403.12,274.62 406.2,274C409.28,273.38 412.1,272.37 414.4,271.5C416.7,270.63 418.07,269.75 420,268.8C421.93,267.85 424,267.3 426,265.8C428,264.3 430.35,261.97 432,259.8C433.65,257.63 434.58,255.45 435.9,252.8C437.22,250.15 438.57,246.55 439.9,243.9C441.23,241.25 442.57,239.07 443.9,236.9C445.23,234.73 446.73,232.3 447.9,230.9C449.07,229.5 449.73,228.83 450.9,228.5C452.07,228.17 453.58,228.57 454.9,228.9C456.22,229.23 457.65,229.83 458.8,230.5C459.95,231.17 460.8,232.77 461.8,232.9C462.8,233.03 463.62,231.95 464.8,231.3C465.98,230.65 467.52,230.97 468.9,229C470.28,227.03 471.45,223.67 473.1,219.5C474.75,215.33 476.92,208.47 478.8,204C480.68,199.53 482.75,195.15 484.4,192.7C486.05,190.25 487.28,189.3 488.7,189.3C490.12,189.3 491.25,190.02 492.9,192.7C494.55,195.38 496.72,201.17 498.6,205.4C500.48,209.63 502.93,215.58 504.2,218.1C505.47,220.62 505.87,220.1 506.2,220.5" stroke="#a8306f" stroke-width="0.8" stroke-dasharray="1.3,1.0" stroke-opacity="0.75"/>
<path d="M365.4,274.8C365.5,274.77 365.38,274.88 366,274.6C366.62,274.32 368.23,273.2 369.1,273.1C369.97,273 370.17,273.85 371.2,274C372.23,274.15 373.93,274.15 375.3,274C376.67,273.85 378.03,273.52 379.4,273.1C380.77,272.68 381.78,271.93 383.5,271.5C385.22,271.07 387.98,270.85 389.7,270.5C391.42,270.15 392.42,269.75 393.8,269.4C395.18,269.05 396.8,268.4 398,268.4C399.2,268.4 399.8,269.13 401,269.4C402.2,269.67 403.65,270 405.2,270C406.75,270 408.42,269.6 410.3,269.4C412.18,269.2 414.88,268.97 416.5,268.8C418.12,268.63 418.75,268.47 420,268.4C421.25,268.33 422.67,268.73 424,268.4C425.33,268.07 426.67,267.17 428,266.4C429.33,265.63 430.85,264.73 432,263.8C433.15,262.87 434.08,261.9 434.9,260.8C435.72,259.7 436.23,257.7 436.9,257.2C437.57,256.7 438.23,258.03 438.9,257.8C439.57,257.57 440.07,256.57 440.9,255.8C441.73,255.03 442.73,254.42 443.9,253.2C445.07,251.98 446.57,249.22 447.9,248.5C449.23,247.78 450.4,248.77 451.9,248.9C453.4,249.03 455.58,249.37 456.9,249.3C458.22,249.23 458.98,250.57 459.8,248.5C460.62,246.43 461.3,240 461.8,236.9C462.3,233.8 462.13,231.88 462.8,229.9C463.47,227.92 464.6,226.32 465.8,225C467,223.68 468.78,223.15 470,222C471.22,220.85 471.87,219.12 473.1,218.1C474.33,217.08 475.75,216.7 477.4,215.9C479.05,215.1 481.12,214.2 483,213.3C484.88,212.4 486.82,211.35 488.7,210.5C490.58,209.65 492.42,208.58 494.3,208.2C496.18,207.82 498.02,208.2 500,208.2C501.98,208.2 505.17,208.2 506.2,208.2" stroke="#a8306f" stroke-width="1.15"/>
</g>
<rect x="365.4" y="166.2" width="140.9" height="113.2" fill="none" stroke="#303030" stroke-width="1.25"/>
<path d="M372.63,279.4v1.2M386,279.4v2M399.37,279.4v1.2M412.73,279.4v1.2M426.1,279.4v2M439.47,279.4v1.2M452.83,279.4v1.2M466.2,279.4v2M479.57,279.4v1.2M492.93,279.4v1.2M506.3,279.4v2" stroke="#303030" stroke-width="0.9" fill="none"/>
<text x="386" y="288.8" font-size="6.8" text-anchor="middle" textLength="9" lengthAdjust="spacingAndGlyphs" fill="#111">1.5</text>
<text x="426.1" y="288.8" font-size="6.8" text-anchor="middle" textLength="9" lengthAdjust="spacingAndGlyphs" fill="#111">2.0</text>
<text x="466.2" y="288.8" font-size="6.8" text-anchor="middle" textLength="9" lengthAdjust="spacingAndGlyphs" fill="#111">2.5</text>
<text x="506.3" y="288.8" font-size="6.8" text-anchor="middle" textLength="9" lengthAdjust="spacingAndGlyphs" fill="#111">3.0</text>
<text x="436" y="298.7" font-size="8.8" text-anchor="middle" textLength="47.5" lengthAdjust="spacingAndGlyphs" fill="#111">Energy (eV)</text>
<path d="M371.1,181.3H389.7" stroke="#a8306f" stroke-width="1.2" fill="none"/>
<text x="392.3" y="183.8" font-size="8" text-anchor="start" font-weight="bold" style="stroke-width:0.32px" textLength="14" lengthAdjust="spacingAndGlyphs" fill="#111">1Np</text>
<text x="409.3" y="183.8" font-size="9" text-anchor="start" textLength="19.9" lengthAdjust="spacingAndGlyphs" fill="#111">(exp.)</text>
<path d="M371.1,191.4H389.7" stroke="#a8306f" stroke-width="0.8" stroke-dasharray="1.2,1.2" stroke-opacity="0.75" fill="none"/>
<text x="392.3" y="194" font-size="8" text-anchor="start" font-weight="bold" style="stroke-width:0.32px" textLength="14" lengthAdjust="spacingAndGlyphs" fill="#111">1Np</text>
<text x="409.3" y="194" font-size="9" text-anchor="start" textLength="21.2" lengthAdjust="spacingAndGlyphs" fill="#111">(calc.)</text>
<clipPath id="c8"><rect x="542.5" y="165.7" width="140.9" height="114.3"/></clipPath>
<g clip-path="url(#c8)" fill="none" stroke-linejoin="round" stroke-linecap="round">
<path d="M542.6,279.2C544.72,279.28 551.05,279.7 555.3,279.7C559.55,279.7 564.68,279.72 568.1,279.2C571.52,278.68 573.67,277.88 575.8,276.6C577.93,275.32 579.2,274.05 580.9,271.5C582.6,268.95 584.48,264.65 586,261.3C587.52,257.95 588.4,254.13 590,251.4C591.6,248.67 593.95,245.62 595.6,244.9C597.25,244.18 598.48,245.32 599.9,247.1C601.32,248.88 602.68,253 604.1,255.6C605.52,258.2 607.22,261.52 608.4,262.7C609.58,263.88 610.27,263.88 611.2,262.7C612.13,261.52 613.07,259.13 614,255.6C614.93,252.07 615.62,247.62 616.8,241.5C617.98,235.38 619.68,225.73 621.1,218.9C622.52,212.07 623.9,204.83 625.3,200.5C626.7,196.17 628.08,193.13 629.5,192.9C630.92,192.67 632.62,196.08 633.8,199.1C634.98,202.12 635.57,207.18 636.6,211C637.63,214.82 638.93,218.83 640,222C641.07,225.17 642,227.95 643,230C644,232.05 644.45,233.73 646,234.3C647.55,234.87 650.18,233.02 652.3,233.4C654.42,233.78 656.58,235.02 658.7,236.6C660.82,238.18 662.9,240.97 665,242.9C667.1,244.83 669.2,247.68 671.3,248.2C673.4,248.72 675.55,247.68 677.6,246C679.65,244.32 682.6,239.42 683.6,238.1" stroke="#ea8d48" stroke-width="0.8" stroke-dasharray="1.3,1.0" stroke-opacity="0.75"/>
<path d="M542.6,279.2C543.02,278.9 544.25,277.48 545.1,277.4C545.95,277.32 546,278.4 547.7,278.7C549.4,279 552.32,279.12 555.3,279.2C558.28,279.28 562.62,279.33 565.6,279.2C568.58,279.07 571.07,278.92 573.2,278.4C575.33,277.88 576.68,277.47 578.4,276.1C580.12,274.73 581.8,272.47 583.5,270.2C585.2,267.93 587.12,264.72 588.6,262.5C590.08,260.28 591.12,258.3 592.4,256.9C593.68,255.5 594.82,254.68 596.3,254.1C597.78,253.52 599.53,254.08 601.3,253.4C603.07,252.72 605.02,251.28 606.9,250C608.78,248.72 610.95,246.55 612.6,245.7C614.25,244.85 615.15,244.75 616.8,244.9C618.45,245.05 620.85,245.98 622.5,246.6C624.15,247.22 625.28,248.98 626.7,248.6C628.12,248.22 629.35,244.92 631,244.3C632.65,243.68 635.15,244.98 636.6,244.9C638.05,244.82 638.38,243.77 639.7,243.8C641.02,243.83 642.92,243.93 644.5,245.1C646.08,246.27 647.37,249.6 649.2,250.8C651.03,252 653.4,251.68 655.5,252.3C657.6,252.92 659.95,253.97 661.8,254.5C663.65,255.03 665.02,255.6 666.6,255.5C668.18,255.4 669.47,255.32 671.3,253.9C673.13,252.48 675.55,249.63 677.6,247C679.65,244.37 682.6,239.58 683.6,238.1" stroke="#ea8d48" stroke-width="1.2"/>
</g>
<rect x="542.5" y="166.2" width="140.9" height="113.3" fill="none" stroke="#303030" stroke-width="1.25"/>
<path d="M547.82,279.5v1.2M557.2,279.5v2M566.58,279.5v1.2M575.97,279.5v1.2M585.35,279.5v2M594.73,279.5v1.2M604.12,279.5v1.2M613.5,279.5v2M622.88,279.5v1.2M632.27,279.5v1.2M641.65,279.5v2M651.03,279.5v1.2M660.42,279.5v1.2M669.8,279.5v2M679.18,279.5v1.2" stroke="#303030" stroke-width="0.9" fill="none"/>
<text x="557.2" y="288.8" font-size="6.8" text-anchor="middle" textLength="9" lengthAdjust="spacingAndGlyphs" fill="#111">1.5</text>
<text x="585.35" y="288.8" font-size="6.8" text-anchor="middle" textLength="9" lengthAdjust="spacingAndGlyphs" fill="#111">2.0</text>
<text x="613.5" y="288.8" font-size="6.8" text-anchor="middle" textLength="9" lengthAdjust="spacingAndGlyphs" fill="#111">2.5</text>
<text x="641.65" y="288.8" font-size="6.8" text-anchor="middle" textLength="9" lengthAdjust="spacingAndGlyphs" fill="#111">3.0</text>
<text x="669.8" y="288.8" font-size="6.8" text-anchor="middle" textLength="9" lengthAdjust="spacingAndGlyphs" fill="#111">3.5</text>
<text x="613.2" y="298.7" font-size="8.8" text-anchor="middle" textLength="47.5" lengthAdjust="spacingAndGlyphs" fill="#111">Energy (eV)</text>
<path d="M548.6,181.3H567" stroke="#ea8d48" stroke-width="1.2" fill="none"/>
<text x="569.7" y="183.8" font-size="8" text-anchor="start" font-weight="bold" style="stroke-width:0.32px" textLength="13.6" lengthAdjust="spacingAndGlyphs" fill="#111">1Pu</text>
<text x="586.6" y="183.8" font-size="9" text-anchor="start" textLength="20.3" lengthAdjust="spacingAndGlyphs" fill="#111">(exp.)</text>
<path d="M548.6,191.4H567" stroke="#ea8d48" stroke-width="0.8" stroke-dasharray="1.2,1.2" stroke-opacity="0.75" fill="none"/>
<text x="569.7" y="194" font-size="8" text-anchor="start" font-weight="bold" style="stroke-width:0.32px" textLength="13.6" lengthAdjust="spacingAndGlyphs" fill="#111">1Pu</text>
<text x="586.6" y="194" font-size="9" text-anchor="start" textLength="20.9" lengthAdjust="spacingAndGlyphs" fill="#111">(calc.)</text>
<text transform="translate(7,77.1) rotate(-90)" x="0" y="0" font-size="8.6" text-anchor="middle" fill="#111" textLength="62.6" lengthAdjust="spacingAndGlyphs">Absorbance (a.u.)</text>
<text transform="translate(6.9,223) rotate(-90)" x="0" y="0" font-size="8.9" text-anchor="middle" fill="#111" textLength="68.8" lengthAdjust="spacingAndGlyphs">Absorbance (a.u.)</text>
</svg>
</body></html>
